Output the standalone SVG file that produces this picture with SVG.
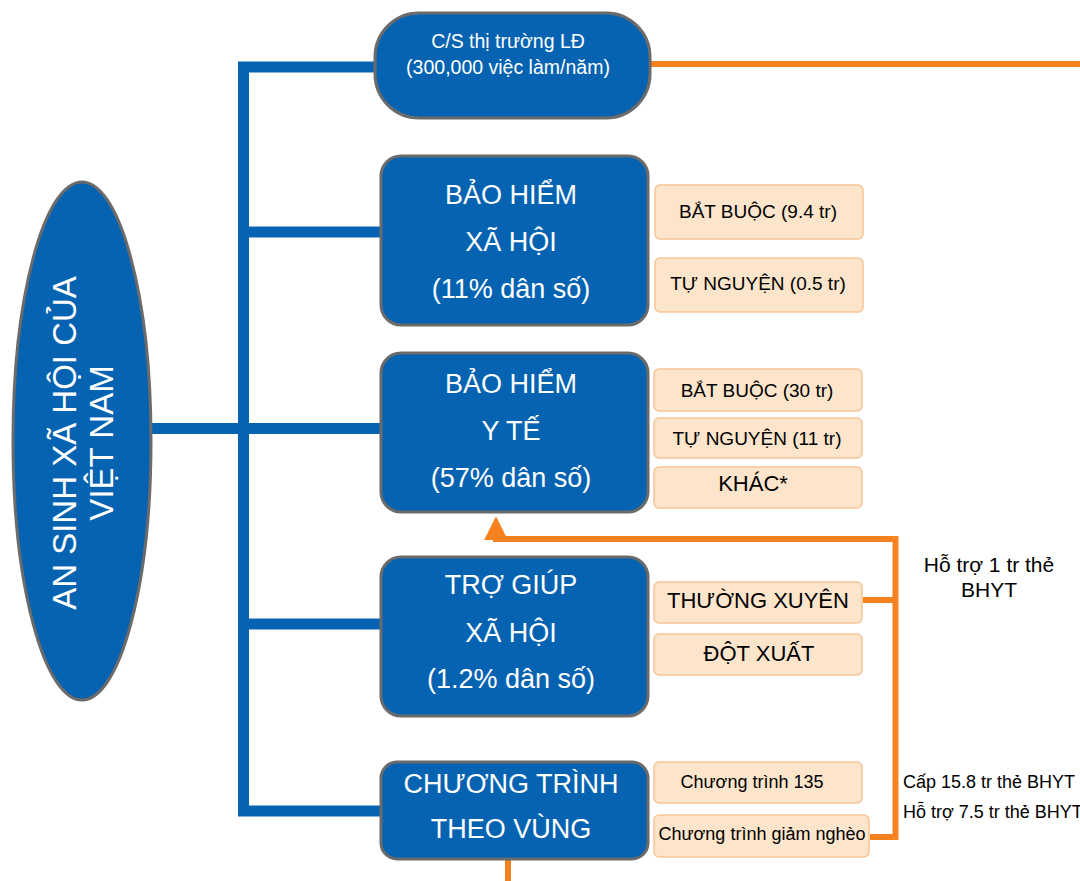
<svg xmlns="http://www.w3.org/2000/svg" width="1080" height="881" viewBox="0 0 1080 881">
<style>
.main{fill:#0563B1;stroke:#6B6B6B;stroke-width:3}
.sub{fill:#FDE5CB;stroke:#F8C594;stroke-width:1.5}
.wt{font-family:"Liberation Sans",Arial,sans-serif;fill:#FFFFFF;text-anchor:middle}
.bt{font-family:"Liberation Sans",Arial,sans-serif;fill:#000000;text-anchor:middle}
.blue{fill:none;stroke:#0563B1;stroke-width:11}
.orange{fill:none;stroke:#F5821F;stroke-width:6}
</style>
<defs>
<marker id="arr" markerWidth="4" markerHeight="4" refX="2.2" refY="2" orient="auto" markerUnits="strokeWidth" viewBox="0 0 4 4">
<path d="M0,0 L4,2 L0,4 Z" fill="#F5821F"/>
</marker>
</defs>
<g id="connectors">
<path class="blue" d="M150,428.5 H382"/>
<path class="blue" d="M376,67 H243.5 V811 H382"/>
<path class="blue" d="M243.5,232 H382"/>
<path class="blue" d="M243.5,624 H382"/>
<path class="orange" d="M650,64 H1080"/>
<path class="orange" d="M863,600 H895.5"/>
<path class="orange" d="M870,837 H895.5 V539 H496 V527" marker-end="url(#arr)"/>
<path class="orange" d="M508,860 V881"/>
</g>
<g id="root">
<ellipse class="main" cx="82" cy="441" rx="69" ry="259" stroke-width="2.5"/>
<g transform="translate(76,443) rotate(-90)">
<text class="wt" x="0" y="0" font-size="33">AN SINH XÃ HỘI CỦA</text>
<text class="wt" x="0" y="37" font-size="33">VIỆT NAM</text>
</g>
</g>
<g id="labor-market">
<rect class="main" x="375" y="13" width="275" height="105" rx="44" ry="44"/>
<text class="wt" x="508" y="48" font-size="19.5">C/S thị trường LĐ</text>
<text class="wt" x="508" y="74" font-size="19.5">(300,000 việc làm/năm)</text>
</g>
<g id="bhxh">
<rect class="main" x="381" y="156" width="267" height="169" rx="20" ry="20"/>
<text class="wt" x="511" y="204" font-size="27">BẢO HIỂM</text>
<text class="wt" x="511" y="251" font-size="27">XÃ HỘI</text>
<text class="wt" x="511" y="298" font-size="27">(11% dân số)</text>
</g>
<g id="bhxh-batbuoc">
<rect class="sub" x="655" y="185" width="208" height="54" rx="5"/>
<text class="bt" x="758" y="218" font-size="19">BẮT BUỘC (9.4 tr)</text>
</g>
<g id="bhxh-tunguyen">
<rect class="sub" x="655" y="258" width="208" height="54" rx="5"/>
<text class="bt" x="758" y="290" font-size="19">TỰ NGUYỆN (0.5 tr)</text>
</g>
<g id="bhyt">
<rect class="main" x="381" y="353" width="267" height="159" rx="20" ry="20"/>
<text class="wt" x="511" y="393" font-size="27">BẢO HIỂM</text>
<text class="wt" x="511" y="440" font-size="27">Y TẾ</text>
<text class="wt" x="511" y="487" font-size="27">(57% dân số)</text>
</g>
<g id="bhyt-batbuoc">
<rect class="sub" x="654" y="369" width="208" height="42" rx="5"/>
<text class="bt" x="757" y="397" font-size="19">BẮT BUỘC (30 tr)</text>
</g>
<g id="bhyt-tunguyen">
<rect class="sub" x="654" y="418" width="208" height="40" rx="5"/>
<text class="bt" x="757" y="445" font-size="19">TỰ NGUYỆN (11 tr)</text>
</g>
<g id="bhyt-khac">
<rect class="sub" x="654" y="467" width="208" height="41" rx="5"/>
<text class="bt" x="753" y="491" font-size="22">KHÁC*</text>
</g>
<g id="tgxh">
<rect class="main" x="381" y="557" width="267" height="159" rx="20" ry="20"/>
<text class="wt" x="511" y="594" font-size="27">TRỢ GIÚP</text>
<text class="wt" x="511" y="642" font-size="27">XÃ HỘI</text>
<text class="wt" x="511" y="688" font-size="27">(1.2% dân số)</text>
</g>
<g id="tgxh-thuongxuyen">
<rect class="sub" x="654" y="582" width="208" height="41" rx="5"/>
<text class="bt" x="758" y="608" font-size="22">THƯỜNG XUYÊN</text>
</g>
<g id="tgxh-dotxuat">
<rect class="sub" x="654" y="634" width="208" height="41" rx="5"/>
<text class="bt" x="759" y="661" font-size="22">ĐỘT XUẤT</text>
</g>
<g id="cttv">
<rect class="main" x="381" y="762" width="267" height="97" rx="16" ry="16"/>
<text class="wt" x="511" y="793" font-size="27">CHƯƠNG TRÌNH</text>
<text class="wt" x="511" y="838" font-size="27">THEO VÙNG</text>
</g>
<g id="cttv-135">
<rect class="sub" x="654" y="762" width="208" height="41" rx="5"/>
<text class="bt" x="752" y="788" font-size="18">Chương trình 135</text>
</g>
<g id="cttv-giamngheo">
<rect class="sub" x="654" y="815" width="215" height="42" rx="5"/>
<text class="bt" x="762" y="840" font-size="18">Chương trình giảm nghèo</text>
</g>
<g id="labels">
<text class="bt" x="989" y="572" font-size="21">Hỗ trợ 1 tr thẻ</text>
<text class="bt" x="989" y="597" font-size="21">BHYT</text>
<text class="bt" x="903" y="788" font-size="18" style="text-anchor:start">Cấp 15.8 tr thẻ BHYT</text>
<text class="bt" x="903" y="818" font-size="18" style="text-anchor:start">Hỗ trợ 7.5 tr thẻ BHYT</text>
</g>
</svg>
